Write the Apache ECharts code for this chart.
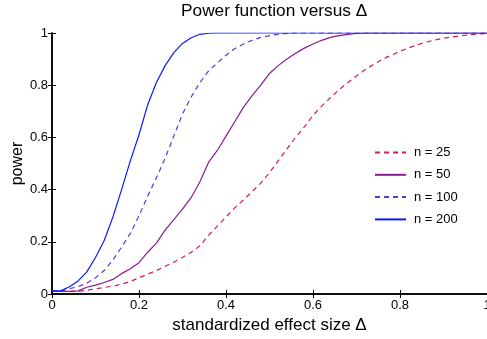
<!DOCTYPE html>
<html>
<head>
<meta charset="utf-8">
<script src="https://cdn.jsdelivr.net/npm/echarts@6/dist/echarts.min.js"></script>
<style>
html,body{margin:0;padding:0;background:#fff;}
#chart{width:487px;height:339px;}
</style>
</head>
<body>
<div id="chart"></div>
<script>
// effect size grid (Delta)
var delta = [0,0.02,0.04,0.06,0.08,0.10,0.12,0.14,0.16,0.18,0.20,0.22,0.24,0.26,0.28,0.30,0.32,0.34,0.36,0.38,0.40,0.42,0.44,0.46,0.48,0.50,0.52,0.54,0.56,0.58,0.60,0.62,0.64,0.66,0.68,0.70,0.72,0.74,0.76,0.78,0.80,0.82,0.84,0.86,0.88,0.90,0.92,0.94,0.96,0.98,1.00];

var power25 = [0.010,0.010,0.010,0.010,0.014,0.020,0.025,0.030,0.038,0.048,0.062,0.076,0.090,0.106,0.122,0.140,0.160,0.185,0.225,0.260,0.295,0.330,0.360,0.392,0.425,0.465,0.510,0.555,0.600,0.640,0.685,0.720,0.752,0.783,0.810,0.835,0.860,0.880,0.900,0.915,0.930,0.943,0.955,0.965,0.973,0.980,0.985,0.990,0.993,0.996,0.998];

var power50 = [0.010,0.010,0.010,0.012,0.026,0.034,0.044,0.056,0.078,0.097,0.120,0.160,0.195,0.245,0.285,0.325,0.370,0.430,0.505,0.550,0.605,0.660,0.715,0.760,0.800,0.845,0.875,0.900,0.922,0.942,0.958,0.972,0.983,0.990,0.995,0.998,1,1,1,1,1,1,1,1,1,1,1,1,1,1,1];

var power100 = [0.010,0.012,0.020,0.028,0.042,0.062,0.090,0.130,0.180,0.232,0.300,0.375,0.445,0.520,0.605,0.690,0.755,0.810,0.855,0.885,0.915,0.940,0.958,0.972,0.983,0.990,0.995,0.998,1,1,1,1,1,1,1,1,1,1,1,1,1,1,1,1,1,1,1,1,1,1,1];

var power200 = [0.012,0.012,0.028,0.050,0.085,0.140,0.205,0.295,0.400,0.510,0.610,0.725,0.810,0.875,0.925,0.960,0.982,0.995,0.999,1,1,1,1,1,1,1,1,1,1,1,1,1,1,1,1,1,1,1,1,1,1,1,1,1,1,1,1,1,1,1,1];

var seriesNames = ['n = 25','n = 50','n = 100','n = 200'];
var xTicks = [0,0.2,0.4,0.6,0.8,1];
var yTicks = [0,0.2,0.4,0.6,0.8,1];

function pairs(ys){ return delta.map(function(d,i){ return [d, ys[i]]; }); }

var FONT = 'Liberation Sans, Arial, Helvetica, sans-serif';
var chart = echarts.init(document.getElementById('chart'), null, {renderer:'canvas'});

function mkSeries(name, ys, color, dashed){
  return {
    name: name, type: 'line', data: pairs(ys), showSymbol: false, symbol: 'none',
    lineStyle: {color: color, width: 1.2, type: dashed ? [5,4] : 'solid'},
    itemStyle: {color: color},
    smooth: false, animation: false, xAxisIndex: 0, yAxisIndex: 0
  };
}
function fmt(v){ return String(Math.round(v*10)/10); }

chart.setOption({
  animation: false,
  backgroundColor: '#fff',
  title: {
    text: 'Power function versus Δ',
    left: 181, top: 3, padding: 0,
    textStyle: {fontFamily: FONT, fontSize: 17.3, fontWeight: 'normal', color: '#000'}
  },
  grid: {left: 52, right: 0, top: 33, bottom: 45, containLabel: false, outerBoundsMode: 'none'},
  legend: {
    orient: 'vertical', left: 369, top: 141,
    itemWidth: 31, itemHeight: 14, itemGap: 9.3,
    itemStyle: {opacity: 0, borderWidth: 0},
    textStyle: {fontFamily: FONT, fontSize: 13, color: '#000', padding: [0,0,0,3]},
    data: seriesNames
  },
  xAxis: [{
    type: 'value', min: 0, max: 1, interval: 0.2,
    name: 'standardized effect size Δ', nameLocation: 'middle', nameGap: 23, nameMoveOverlap: false,
    nameTextStyle: {fontFamily: FONT, fontSize: 17, color: '#000'},
    axisLine: {show: true, lineStyle: {color: '#000', width: 1.5}},
    axisTick: {show: true, inside: true, length: 4, lineStyle: {color: '#000'}},
    axisLabel: {fontFamily: FONT, fontSize: 13, color: '#000', margin: 5, formatter: fmt},
    splitLine: {show: false}
  },{
    type: 'value', min: 0, max: 1, interval: 0.2, position: 'top',
    axisLine: {show: true, lineStyle: {color: '#000', width: 1.5}},
    axisTick: {show: true, inside: true, length: 4, lineStyle: {color: '#000'}},
    axisLabel: {show: false}, splitLine: {show: false}
  }],
  yAxis: [{
    type: 'value', min: 0, max: 1, interval: 0.2,
    name: 'power', nameLocation: 'middle', nameGap: 26, nameRotate: 90, nameMoveOverlap: false,
    nameTextStyle: {fontFamily: FONT, fontSize: 16, color: '#000'},
    axisLine: {show: true, lineStyle: {color: '#000', width: 1.5}},
    axisTick: {show: true, inside: true, length: 4, lineStyle: {color: '#000'}},
    axisLabel: {fontFamily: FONT, fontSize: 13, color: '#000', margin: 4, formatter: fmt},
    splitLine: {show: false}
  },{
    type: 'value', min: 0, max: 1, interval: 0.2, position: 'right',
    axisLine: {show: true, lineStyle: {color: '#000', width: 1.5}},
    axisTick: {show: true, inside: true, length: 4, lineStyle: {color: '#000'}},
    axisLabel: {show: false}, splitLine: {show: false}
  }],
  series: [
    mkSeries(seriesNames[0], power25, '#d7195a', true),
    mkSeries(seriesNames[1], power50, '#8b1a8f', false),
    mkSeries(seriesNames[2], power100, '#5a35e0', true),
    mkSeries(seriesNames[3], power200, '#0a1cff', false)
  ]
});
</script>
</body>
</html>
